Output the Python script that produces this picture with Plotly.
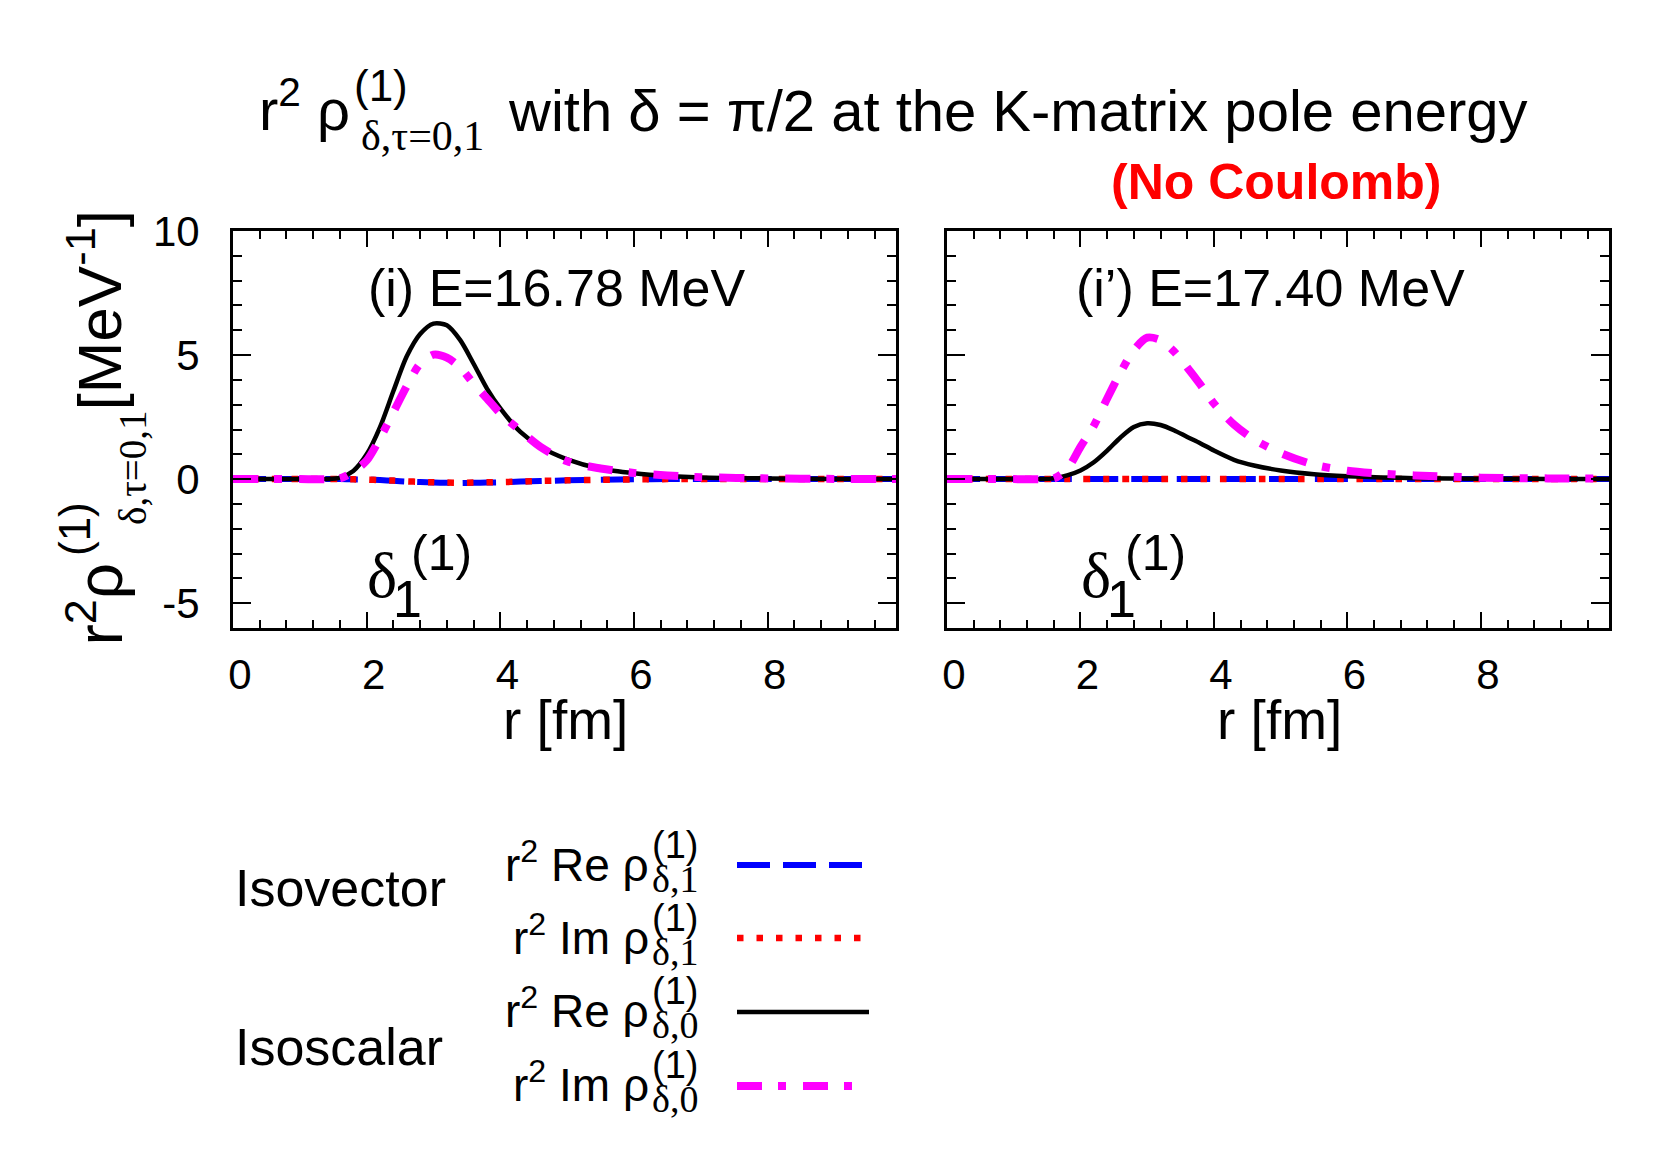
import plotly.graph_objects as go

W, H = 1661, 1153
FONT = "Liberation Sans, Arial, sans-serif"
SERIF = "Liberation Serif, Times New Roman, serif"

# ---------------- data ----------------
r = [0.0, 0.5, 1.0, 1.4, 1.6, 1.8, 2.0, 2.2, 2.4, 2.6, 2.8, 3.0, 3.2, 3.4,
     3.6, 3.8, 4.0, 4.3, 4.6, 5.0, 5.5, 6.0, 6.5, 7.0, 8.0, 9.0, 9.92]

# panel (i) E = 16.78 MeV
re_rho1_i = [0, 0, 0, 0, 0, -0.01, -0.02, -0.04, -0.07, -0.10, -0.12, -0.14, -0.15, -0.16,
             -0.15, -0.14, -0.13, -0.10, -0.08, -0.05, -0.03, -0.01, 0, 0, 0, 0, 0]
im_rho1_i = [0, 0, 0, 0, 0, -0.01, -0.02, -0.04, -0.06, -0.09, -0.11, -0.13, -0.14, -0.15,
             -0.14, -0.13, -0.12, -0.10, -0.07, -0.05, -0.03, -0.01, 0, 0, 0, 0, 0]
re_rho0_i = [0, 0, 0, 0, 0.06, 0.33, 1.0, 2.1, 3.55, 4.95, 5.85, 6.27, 6.2, 5.6,
             4.65, 3.65, 2.85, 1.9, 1.3, 0.8, 0.42, 0.24, 0.13, 0.07, 0.03, 0.01, 0.0]
im_rho0_i = [0, 0, 0, 0, 0.03, 0.3, 0.75, 1.65, 2.7, 3.75, 4.65, 5.02, 4.9, 4.5,
             3.85, 3.25, 2.65, 1.95, 1.3, 0.72, 0.43, 0.25, 0.15, 0.08, 0.03, 0.01, 0.0]

# panel (i') E = 17.40 MeV
re_rho1_ii = [0] * 27
im_rho1_ii = [0] * 27
re_rho0_ii = [0, 0, 0, 0, 0.03, 0.15, 0.35, 0.68, 1.15, 1.68, 2.1, 2.25, 2.18, 1.97,
              1.7, 1.44, 1.15, 0.78, 0.55, 0.35, 0.2, 0.12, 0.07, 0.04, 0.02, 0.01, 0.0]
im_rho0_ii = [0, 0, 0, 0, 0.02, 0.4, 1.3, 2.15, 3.25, 4.3, 5.2, 5.7, 5.6, 5.15,
              4.5, 3.8, 3.05, 2.2, 1.6, 1.05, 0.58, 0.34, 0.22, 0.15, 0.06, 0.03, 0.02]

panel_labels = ["(i) E=16.78 MeV", "(i\u2019) E=17.40 MeV"]
x_tick_vals = [0, 2, 4, 6, 8]
x_tick_text = ["0", "2", "4", "6", "8"]
y_tick_vals = [-5, 0, 5, 10]
y_tick_text = ["-5", "0", "5", "10"]
legend_names = ["Re", "Im", "Re", "Im"]
legend_subs = ["\u03b4,1", "\u03b4,1", "\u03b4,0", "\u03b4,0"]

# ---------------- styles ----------------
styles = [
    dict(color="#0000ff", width=6, dash="33px,13px"),
    dict(color="#ff0000", width=6.5, dash="6.5px,13px"),
    dict(color="#000000", width=4.5, dash="solid"),
    dict(color="#ff00ff", width=8, dash="25px,16px,8px,17px"),
]


def px(x):
    return x / W


def py(y):
    return 1 - y / H


fig = go.Figure()

panels = [
    ([re_rho1_i, im_rho1_i, re_rho0_i, im_rho0_i], "x", "y"),
    ([re_rho1_ii, im_rho1_ii, re_rho0_ii, im_rho0_ii], "x2", "y2"),
]
for series, xa, ya in panels:
    for s, st in zip(series, styles):
        fig.add_trace(go.Scatter(x=r, y=s, mode="lines", xaxis=xa, yaxis=ya,
                                 line=dict(shape="spline", smoothing=0.8, **st),
                                 showlegend=False, hoverinfo="skip"))

common_x = dict(range=[0, 9.92], tickmode="array", tickvals=x_tick_vals, ticktext=x_tick_text,
                ticks="inside", ticklen=16, tickwidth=2, tickcolor="black",
                minor=dict(ticks="inside", ticklen=8, tickwidth=2, tickcolor="black", dtick=0.4, tick0=0),
                showline=True, linewidth=3, linecolor="black", mirror="allticks",
                showgrid=False, zeroline=False, automargin=False,
                tickfont=dict(family=FONT, size=42, color="black"),
                ticklabelstandoff=8, ticklabelshift=7)
common_y = dict(range=[-6, 10], tickmode="array", tickvals=y_tick_vals, ticktext=y_tick_text,
                ticks="inside", ticklen=18, tickwidth=2, tickcolor="black",
                minor=dict(ticks="inside", ticklen=9, tickwidth=2, tickcolor="black", dtick=1, tick0=0),
                showline=True, linewidth=3, linecolor="black", mirror="allticks",
                showgrid=False, zeroline=False, automargin=False,
                tickfont=dict(family=FONT, size=42, color="black"),
                ticklabelstandoff=22)

fig.update_layout(
    width=W, height=H, margin=dict(l=0, r=0, t=0, b=0, pad=0, autoexpand=False),
    paper_bgcolor="white", plot_bgcolor="white", showlegend=False,
    xaxis=dict(domain=[px(233), px(896)], anchor="y", **common_x),
    yaxis=dict(domain=[py(628), py(231)], anchor="x", **common_y),
    xaxis2=dict(domain=[px(947), px(1609)], anchor="y2", **common_x),
    yaxis2=dict(domain=[py(628), py(231)], anchor="x2", showticklabels=False, **common_y),
)


def ann(text, x, y, size, xa="center", ya="middle", font=FONT, color="black", angle=0):
    fig.add_annotation(text=text, x=px(x), y=py(y), xref="paper", yref="paper",
                       xanchor=xa, yanchor=ya, showarrow=False, textangle=angle,
                       borderpad=0, borderwidth=0,
                       font=dict(family=font, size=size, color=color))


# ---- title ----
ann("r<sup>2</sup> \u03c1", 350, 142, 58, xa="right", ya="bottom")
ann("(1)", 381, 85, 44)
ann("\u03b4,\u03c4=0,1", 422, 136, 42, font=SERIF)
ann("with \u03b4 = \u03c0/2 at the K-matrix pole energy", 508, 110, 58, xa="left")
ann("<b>(No Coulomb)</b>", 1276, 182, 50, color="#ff0000")

# ---- y axis title (rotated) ----
ann("r<sup>2</sup>\u03c1", 136, 646, 64, xa="right", ya="bottom", angle=-90)
ann("(1)", 74, 529, 44, angle=-90)
ann("\u03b4,\u03c4=0,1", 132, 468, 39, font=SERIF, angle=-90)
ann("[MeV<sup>-1</sup>]", 133, 210, 62, xa="right", ya="top", angle=-90)

# ---- panel texts ----
for k, off in enumerate([0, 714]):
    ann(panel_labels[k], 556 + off, 288, 52)
    ann("r [fm]", 565 + off, 720, 55)
    ann("\u03b4", 382 + off, 575, 64, font=SERIF)
    ann("1", 407 + off, 599, 52)
    ann("(1)", 441 + off, 553, 50)

# ---- legend ----
ann("Isovector", 235, 888, 52, xa="left")
ann("Isoscalar", 235, 1047, 52, xa="left")
row_y = [864, 937, 1010, 1084]
line_y = [865, 938, 1012, 1086]
line_end = [863, 863, 869, 853]
for i in range(4):
    yy = row_y[i]
    ann("r<sup>2</sup> " + legend_names[i] + " \u03c1", 649, yy + 27, 46, xa="right", ya="bottom")
    ann("(1)", 652, yy - 19, 38, xa="left")
    ann(legend_subs[i], 652, yy + 15, 38, xa="left", font=SERIF)
    st = styles[i]
    fig.add_shape(type="line", xref="paper", yref="paper",
                  x0=px(737), x1=px(line_end[i]), y0=py(line_y[i]), y1=py(line_y[i]),
                  line=dict(color=st["color"], width=st["width"], dash=st["dash"]))

fig.write_html("out.html", config={"displayModeBar": False},
               post_script="document.body.style.margin='0';")
